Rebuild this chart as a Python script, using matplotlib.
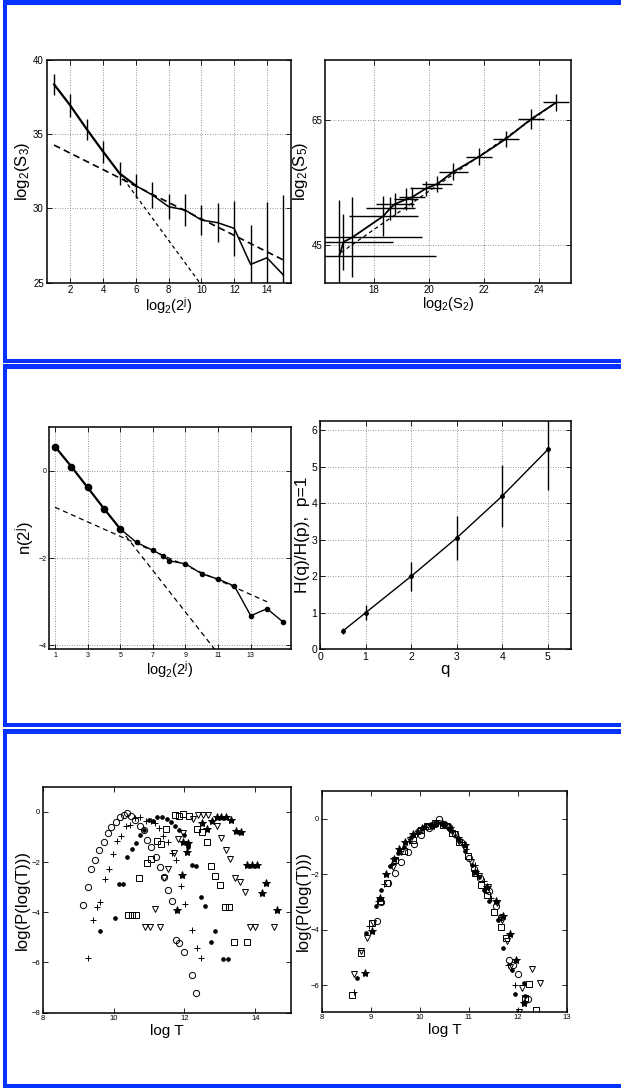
import matplotlib
matplotlib.use("Agg")
import matplotlib.pyplot as plt
from matplotlib.patches import Rectangle

plt.rcParams["font.family"] = ["Liberation Sans", "DejaVu Sans"]
plt.rcParams["mathtext.default"] = "regular"

W, H = 621, 1088
BLUE = "#0433ff"

# ----------------------------------------------------------------------
# Data: structure function vs scale (top left)
# ----------------------------------------------------------------------
scale_j = [1, 2, 3, 4, 5, 6, 7, 8, 9, 10, 11, 12, 13, 14, 15]
log_s3 = [38.36, 36.92, 35.33, 33.82, 32.36, 31.53, 30.91, 30.12, 29.90,
          29.22, 29.04, 28.66, 26.23, 26.68, 25.52]
log_s3_err = [0.73, 0.77, 0.70, 0.73, 0.80, 0.80, 0.90, 0.85, 1.05,
              1.00, 1.30, 1.85, 2.64, 3.78, 5.37]
s3_fit_large_x = [1, 15]
s3_fit_large_y = [34.27, 26.53]
s3_fit_small_x = [5, 11]
s3_fit_small_y = [32.36, 23.33]

# ESS: log2(S5) vs log2(S2) (top right)
log_s2 = [16.74, 16.89, 17.21, 18.34, 18.58, 18.76, 19.16, 19.37, 19.89,
          20.29, 20.88, 21.81, 22.78, 23.70, 24.62]
log_s5 = [43.24, 45.48, 46.23, 49.65, 50.88, 51.58, 52.33, 52.65, 54.09,
          54.79, 56.76, 59.17, 62.01, 65.21, 67.89]
log_s2_err = [3.50, 1.79, 2.52, 1.25, 0.89, 0.68, 0.45, 0.48, 0.57,
              0.54, 0.53, 0.48, 0.47, 0.47, 0.47]
log_s5_err = [9.0, 4.55, 6.40, 3.20, 1.90, 1.80, 1.75, 1.60, 1.20,
              1.34, 1.40, 1.40, 1.26, 1.60, 1.34]
ess_fit_x = [16.80, 24.62]
ess_fit_y = [43.80, 67.89]

# n(2^j) (middle left)
n_j = [1, 2, 3, 4, 5, 6, 7, 7.6, 8, 9, 10, 11, 12, 13, 14, 15]
n_vals = [0.558, 0.10, -0.38, -0.864, -1.33, -1.64, -1.82, -1.94, -2.06,
          -2.13, -2.36, -2.48, -2.64, -3.32, -3.16, -3.47]
n_fit_large_x = [1, 14]
n_fit_large_y = [-0.834, -3.0]
n_fit_small_x = [5, 11]
n_fit_small_y = [-1.33, -4.19]

# H(q)/H(p) (middle right)
q_vals = [0.5, 1, 2, 3, 4, 5]
h_ratio = [0.50, 1.00, 2.00, 3.05, 4.20, 5.47]
h_ratio_err = [0.07, 0.20, 0.40, 0.61, 0.84, 1.11]

# ----------------------------------------------------------------------
# Data: distributions of log T (bottom left, raw)
# ----------------------------------------------------------------------
raw_o_x = [9.14, 9.27, 9.37, 9.49, 9.59, 9.72, 9.83, 9.94, 10.06, 10.17,
           10.29, 10.39, 10.50, 10.61, 10.74, 10.85, 10.95, 11.07, 11.19,
           11.30, 11.41, 11.53, 11.65, 11.75, 11.86, 11.98, 12.21, 12.33]
raw_o_y = [-3.70, -2.98, -2.26, -1.90, -1.52, -1.19, -0.84, -0.59, -0.39,
           -0.19, -0.11, -0.04, -0.16, -0.31, -0.56, -0.73, -1.12, -1.40,
           -1.78, -2.20, -2.61, -3.12, -3.57, -5.11, -5.23, -5.59, -6.51,
           -7.20]
raw_plus_x = [9.28, 9.41, 9.52, 9.63, 9.75, 9.87, 9.99, 10.10, 10.22, 10.34,
              10.46, 10.60, 10.74, 10.92, 11.06, 11.16, 11.28, 11.39, 11.53,
              11.66, 11.77, 11.89, 12.02, 12.22, 12.35, 12.47]
raw_plus_y = [-5.81, -4.31, -3.81, -3.61, -2.66, -2.28, -1.68, -1.17, -0.96,
              -0.57, -0.51, -0.24, -0.21, -0.37, -0.36, -0.44, -0.65, -0.97,
              -1.21, -1.64, -1.90, -2.97, -3.66, -4.70, -5.41, -5.81]
raw_dot_x = [9.63, 10.04, 10.14, 10.27, 10.38, 10.52, 10.62, 10.76, 10.87,
             10.99, 11.11, 11.23, 11.36, 11.51, 11.63, 11.74, 11.86, 11.98,
             12.10, 12.22, 12.33, 12.47, 12.58, 12.74, 12.86, 13.08, 13.22]
raw_dot_y = [-4.74, -4.23, -2.88, -2.88, -1.80, -1.50, -1.23, -0.91, -0.71,
             -0.31, -0.35, -0.20, -0.20, -0.27, -0.39, -0.55, -0.73, -0.91,
             -1.40, -2.13, -2.14, -3.41, -3.77, -5.17, -4.74, -5.85, -5.85]
raw_sq_x = [10.41, 10.51, 10.62, 10.71, 10.94, 11.07, 11.22, 11.35, 11.47,
            11.73, 11.86, 11.97, 12.12, 12.36, 12.50, 12.63, 12.76, 12.87,
            13.00, 13.15, 13.27, 13.41, 13.78]
raw_sq_y = [-4.10, -4.10, -4.10, -2.64, -2.02, -1.89, -1.17, -1.29, -0.68,
            -0.11, -0.17, -0.08, -0.15, -0.69, -0.79, -1.19, -2.16, -2.56,
            -2.90, -3.81, -3.81, -5.19, -5.19]
raw_v_x = [10.88, 11.02, 11.30, 11.16, 11.42, 11.55, 11.70, 11.83, 11.97,
           12.24, 12.39, 12.52, 12.66, 12.91, 13.03, 13.17, 13.28, 13.43,
           13.58, 13.72, 13.85, 14.00, 14.53]
raw_v_y = [-4.58, -4.58, -4.58, -3.89, -2.62, -2.26, -1.65, -1.07, -0.85,
           -0.27, -0.11, -0.11, -0.11, -0.57, -1.04, -1.53, -1.88, -2.65,
           -2.80, -3.18, -4.59, -4.59, -4.59]
raw_star_x = [11.80, 11.92, 11.95, 12.07, 12.10, 12.50, 12.63, 12.78, 12.91,
              13.04, 13.17, 13.32, 13.47, 13.60, 13.76, 13.90, 14.04, 14.18,
              14.31, 14.60]
raw_star_y = [-3.93, -2.53, -1.19, -1.62, -1.26, -0.44, -0.67, -0.35, -0.20,
              -0.19, -0.21, -0.33, -0.77, -0.81, -2.12, -2.12, -2.12, -3.24,
              -2.84, -3.93]

# collapsed distributions (bottom right)
col_o_x = [9.13, 9.20, 9.35, 9.50, 9.62, 9.75, 9.88, 10.02, 10.18, 10.30,
           10.40, 10.50, 10.60, 10.72, 10.85, 11.00, 11.10, 11.22, 11.35,
           11.42, 11.55, 11.65, 11.83, 11.90, 12.00, 12.20]
col_o_y = [-3.70, -3.00, -2.30, -1.95, -1.55, -1.20, -0.92, -0.60, -0.35,
           -0.18, -0.02, -0.18, -0.30, -0.55, -0.85, -1.40, -1.80, -2.15,
           -2.55, -2.60, -3.15, -3.55, -5.10, -5.25, -5.60, -6.50]
col_plus_x = [8.65, 8.97, 9.15, 9.27, 9.42, 9.60, 9.78, 9.95, 10.12, 10.28,
              10.45, 10.62, 10.78, 10.95, 11.12, 11.30, 11.45, 11.62, 11.80,
              11.95]
col_plus_y = [-6.25, -3.85, -2.95, -2.35, -1.65, -1.15, -0.80, -0.55, -0.30,
              -0.20, -0.20, -0.40, -0.65, -1.10, -1.65, -2.25, -2.85, -3.60,
              -5.25, -6.00]
col_dot_x = [8.72, 8.90, 9.10, 9.20, 9.38, 9.55, 9.68, 9.82, 9.95, 10.08,
             10.22, 10.35, 10.50, 10.65, 10.80, 10.93, 11.07, 11.20, 11.32,
             11.42, 11.60, 11.70, 11.88, 11.95, 12.12, 12.15]
col_dot_y = [-5.75, -4.10, -3.15, -2.55, -1.70, -1.25, -1.00, -0.65, -0.45,
             -0.30, -0.20, -0.15, -0.22, -0.45, -0.80, -1.15, -1.65, -2.10,
             -2.55, -2.95, -3.65, -4.65, -5.45, -6.30, -5.90, -6.40]
col_sq_x = [8.62, 8.80, 9.02, 9.18, 9.33, 9.50, 9.68, 9.85, 10.02, 10.15,
            10.30, 10.48, 10.65, 10.80, 10.98, 11.12, 11.25, 11.38, 11.52,
            11.65, 11.75, 12.15, 12.22, 12.38]
col_sq_y = [-6.35, -4.85, -3.75, -2.95, -2.30, -1.50, -1.15, -0.75, -0.40,
            -0.25, -0.15, -0.22, -0.50, -0.85, -1.35, -1.95, -2.40, -2.75,
            -3.35, -3.90, -4.30, -6.45, -5.95, -6.90]
col_v_x = [8.66, 8.80, 8.92, 9.05, 9.45, 9.62, 9.80, 10.00, 10.15, 10.35,
           10.55, 10.72, 10.88, 11.05, 11.20, 11.40, 11.57, 11.68, 11.78,
           11.85, 12.02, 12.08, 12.30, 12.45]
col_v_y = [-5.60, -4.75, -4.30, -3.75, -1.75, -1.20, -0.75, -0.45, -0.30,
           -0.15, -0.25, -0.55, -0.95, -1.55, -2.05, -2.45, -3.05, -3.65,
           -4.40, -5.35, -6.95, -6.10, -5.40, -5.90]
col_star_x = [8.88, 9.03, 9.18, 9.30, 9.47, 9.58, 9.70, 9.85, 10.05, 10.25,
              10.45, 10.62, 10.78, 10.92, 11.12, 11.38, 11.55, 11.70, 11.85,
              11.97, 12.12]
col_star_y = [-5.55, -4.05, -2.85, -2.00, -1.45, -1.10, -0.85, -0.55, -0.35,
              -0.25, -0.15, -0.35, -0.70, -0.95, -1.90, -2.45, -2.95, -3.50,
              -4.15, -5.10, -6.65]


# ----------------------------------------------------------------------
# Helpers
# ----------------------------------------------------------------------

def px_axes(fig, left, top, right, bottom):
    """Add axes from pixel box (origin top-left)."""
    return fig.add_axes([left / W, 1 - bottom / H, (right - left) / W, (bottom - top) / H])


def blue_band(fig, x0, y0, x1, y1):
    fig.add_artist(Rectangle((x0 / W, 1 - y1 / H), (x1 - x0) / W, (y1 - y0) / H,
                             transform=fig.transFigure, color=BLUE, lw=0))


def matlab_style(ax, tick_size, grid=True):
    ax.tick_params(direction="in", top=True, right=True, length=3.5, width=0.6,
                   labelsize=tick_size, pad=2)
    for sp in ax.spines.values():
        sp.set_linewidth(1.1)
    if grid:
        ax.grid(True, linestyle=(0, (1, 2)), color="0.45", linewidth=0.6)
        ax.set_axisbelow(True)


def scatter_series(ax, series):
    for xs, ys, marker, ms, filled in series:
        ax.plot(xs, ys, ls="none", marker=marker, ms=ms, mew=0.7, mec="k",
                mfc="k" if filled else "none", color="k")


fig = plt.figure(figsize=(W / 100, H / 100), dpi=100)

# blue panel frames
for top, bottom in [(0, 363), (364, 727), (729, 1088)]:
    blue_band(fig, 2.5, top, W, top + 5)
    blue_band(fig, 2.5, bottom - 4.5, W, bottom)
    blue_band(fig, 2.5, top, 7.5, bottom)

# ----------------------------------------------------------------------
# Top left
# ----------------------------------------------------------------------
ax = px_axes(fig, 46.7, 60, 290.7, 282.7)
ax.errorbar(scale_j, log_s3, yerr=log_s3_err, fmt="none", ecolor="k", elinewidth=1.0, capsize=0)
ax.plot(scale_j[:6], log_s3[:6], "k-", lw=1.6)
ax.plot(scale_j[5:], log_s3[5:], "k-", lw=1.1)
ax.plot(s3_fit_large_x, s3_fit_large_y, "k--", lw=1.2, dashes=(4, 2.5))
ax.plot(s3_fit_small_x, s3_fit_small_y, "k--", lw=0.9, dashes=(3, 2.5))
ax.set_xlim(0.55, 15.45)
ax.set_ylim(25, 40)
ax.set_xticks(range(2, 15, 2))
ax.set_yticks([25, 30, 35, 40])
matlab_style(ax, 7)
ax.set_xlabel("log$_2$(2$^j$)", fontsize=10.5, labelpad=0)
ax.set_ylabel("log$_2$(S$_3$)", fontsize=12, labelpad=1)

# ----------------------------------------------------------------------
# Top right
# ----------------------------------------------------------------------
ax = px_axes(fig, 325.3, 60, 570.7, 282.7)
ax.errorbar(log_s2, log_s5, xerr=log_s2_err, yerr=log_s5_err, fmt="none",
            ecolor="k", elinewidth=1.0, capsize=0)
ax.plot(log_s2, log_s5, "k-", lw=1.3)
ax.plot(ess_fit_x, ess_fit_y, "k--", lw=0.9, dashes=(3, 2.5))
ax.set_xlim(16.23, 25.14)
ax.set_ylim(38.95, 74.7)
ax.set_xticks([18, 20, 22, 24])
ax.set_yticks([45, 65])
matlab_style(ax, 7)
ax.set_xlabel("log$_2$(S$_2$)", fontsize=10.5, labelpad=0)
ax.set_ylabel("log$_2$(S$_5$)", fontsize=12, labelpad=1)

# ----------------------------------------------------------------------
# Middle left
# ----------------------------------------------------------------------
ax = px_axes(fig, 49.3, 427.3, 290.7, 649.3)
ax.plot(n_fit_large_x, n_fit_large_y, "k--", lw=0.9, dashes=(4, 3))
ax.plot(n_fit_small_x, n_fit_small_y, "k--", lw=0.9, dashes=(4, 3))
ax.plot(n_j[:5], n_vals[:5], "k-o", lw=1.6, ms=4.5)
ax.plot(n_j[4:], n_vals[4:], "k-o", lw=1.0, ms=3)
ax.set_xlim(0.65, 15.45)
ax.set_ylim(-4.09, 1.0)
ax.set_xticks(range(1, 14, 2))
ax.set_yticks([-4, -2, 0])
matlab_style(ax, 5)
ax.set_xlabel("log$_2$(2$^j$)", fontsize=10.5, labelpad=0)
ax.set_ylabel("n(2$^j$)", fontsize=12, labelpad=2)

# ----------------------------------------------------------------------
# Middle right
# ----------------------------------------------------------------------
ax = px_axes(fig, 320, 421, 570.7, 649.3)
ax.errorbar(q_vals, h_ratio, yerr=h_ratio_err, fmt="k-", marker="o", ms=2.5,
            lw=1.0, ecolor="k", elinewidth=1.0, capsize=0)
ax.set_xlim(0, 5.5)
ax.set_ylim(0, 6.25)
ax.set_xticks(range(0, 6))
ax.set_yticks(range(0, 7))
matlab_style(ax, 7.5)
ax.set_xlabel("q", fontsize=12, labelpad=0)
ax.set_ylabel("H(q)/H(p),  p=1", fontsize=12.5, labelpad=1)

# ----------------------------------------------------------------------
# Bottom left
# ----------------------------------------------------------------------
ax = px_axes(fig, 42.7, 786.7, 290.7, 1012.7)
scatter_series(ax, [
    (raw_o_x, raw_o_y, "o", 4.5, False),
    (raw_plus_x, raw_plus_y, "+", 5, False),
    (raw_dot_x, raw_dot_y, "o", 2.6, True),
    (raw_sq_x, raw_sq_y, "s", 3.8, False),
    (raw_v_x, raw_v_y, "v", 4.5, False),
    (raw_star_x, raw_star_y, "*", 6, True),
])
ax.set_xlim(8, 15)
ax.set_ylim(-8, 1)
ax.set_xticks([8, 10, 12, 14])
ax.set_yticks([-8, -6, -4, -2, 0])
matlab_style(ax, 5.5, grid=False)
ax.set_xlabel("log T", fontsize=11, labelpad=1)
ax.set_ylabel("log(P(log(T)))", fontsize=12, labelpad=1)

# ----------------------------------------------------------------------
# Bottom right
# ----------------------------------------------------------------------
ax = px_axes(fig, 322, 791, 566.7, 1011.7)
scatter_series(ax, [
    (col_o_x, col_o_y, "o", 4.5, False),
    (col_plus_x, col_plus_y, "+", 5, False),
    (col_dot_x, col_dot_y, "o", 2.6, True),
    (col_sq_x, col_sq_y, "s", 3.8, False),
    (col_v_x, col_v_y, "v", 4.5, False),
    (col_star_x, col_star_y, "*", 6, True),
])
ax.set_xlim(8, 13)
ax.set_ylim(-6.95, 1)
ax.set_xticks(range(8, 14))
ax.set_yticks([-6, -4, -2, 0])
matlab_style(ax, 5.5, grid=False)
ax.set_xlabel("log T", fontsize=11, labelpad=1)
ax.set_ylabel("log(P(log(T)))", fontsize=12, labelpad=0)

fig.savefig("out.png", dpi=100)
